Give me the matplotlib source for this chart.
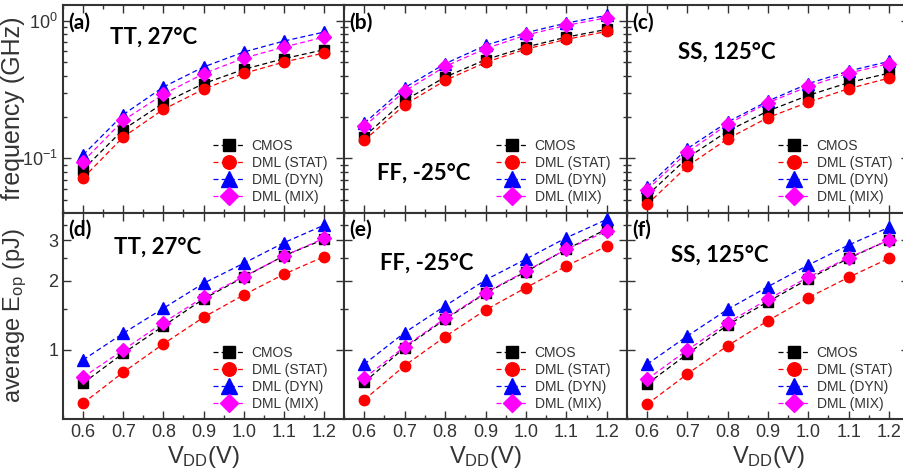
import matplotlib
matplotlib.use('Agg')
import matplotlib.pyplot as plt
from matplotlib.ticker import FixedLocator, NullFormatter, LogLocator, FormatStrFormatter, MultipleLocator

plt.rcParams['font.family'] = ['Liberation Sans', 'DejaVu Sans']
plt.rcParams['mathtext.fontset'] = 'custom'
plt.rcParams['mathtext.rm'] = 'Liberation Sans'
plt.rcParams['mathtext.it'] = 'Liberation Sans'

# tensions d'alimentation
vdd = [0.6, 0.7, 0.8, 0.9, 1.0, 1.1, 1.2]
series_names = ['CMOS', 'DML (STAT)', 'DML (DYN)', 'DML (MIX)']

# fréquence (GHz) - TT 27°C
freq_tt_cmos = [0.083, 0.162, 0.252, 0.349, 0.443, 0.530, 0.615]
freq_tt_stat = [0.072, 0.143, 0.227, 0.318, 0.414, 0.501, 0.582]
freq_tt_dyn = [0.106, 0.208, 0.330, 0.461, 0.592, 0.711, 0.826]
freq_tt_mix = [0.095, 0.189, 0.292, 0.412, 0.535, 0.643, 0.760]
# FF -25°C
freq_ff_cmos = [0.144, 0.264, 0.389, 0.521, 0.643, 0.760, 0.865]
freq_ff_stat = [0.135, 0.245, 0.368, 0.498, 0.622, 0.732, 0.836]
freq_ff_dyn = [0.180, 0.326, 0.487, 0.662, 0.818, 0.961, 1.093]
freq_ff_mix = [0.171, 0.308, 0.465, 0.627, 0.786, 0.924, 1.051]
# SS 125°C
freq_ss_cmos = [0.0538, 0.101, 0.158, 0.221, 0.287, 0.355, 0.416]
freq_ss_stat = [0.0463, 0.088, 0.139, 0.198, 0.256, 0.321, 0.383]
freq_ss_dyn = [0.062, 0.118, 0.184, 0.261, 0.349, 0.431, 0.506]
freq_ss_mix = [0.0593, 0.111, 0.177, 0.254, 0.333, 0.416, 0.487]

# énergie moyenne par opération (pJ)
eop_tt_cmos = [0.717, 0.967, 1.27, 1.664, 2.07, 2.56, 3.02]
eop_tt_stat = [0.587, 0.80, 1.062, 1.386, 1.732, 2.13, 2.54]
eop_tt_dyn = [0.905, 1.181, 1.516, 1.946, 2.377, 2.918, 3.48]
eop_tt_mix = [0.761, 1.0, 1.314, 1.693, 2.08, 2.557, 3.05]
eop_ff_cmos = [0.724, 1.023, 1.359, 1.762, 2.187, 2.733, 3.35]
eop_ff_stat = [0.607, 0.855, 1.142, 1.491, 1.863, 2.313, 2.825]
eop_ff_dyn = [0.867, 1.189, 1.552, 2.012, 2.481, 3.069, 3.687]
eop_ff_mix = [0.754, 1.034, 1.372, 1.773, 2.201, 2.733, 3.28]
eop_ss_cmos = [0.712, 0.961, 1.284, 1.62, 2.032, 2.497, 3.0]
eop_ss_stat = [0.581, 0.787, 1.044, 1.34, 1.686, 2.066, 2.497]
eop_ss_dyn = [0.867, 1.15, 1.501, 1.883, 2.337, 2.853, 3.405]
eop_ss_mix = [0.746, 1.0, 1.314, 1.66, 2.07, 2.514, 3.0]

corners = ['TT, 27°C', 'FF, -25°C', 'SS, 125°C']
panel_labels = [['(a)', '(b)', '(c)'], ['(d)', '(e)', '(f)']]

freq = [[freq_tt_cmos, freq_tt_stat, freq_tt_dyn, freq_tt_mix],
        [freq_ff_cmos, freq_ff_stat, freq_ff_dyn, freq_ff_mix],
        [freq_ss_cmos, freq_ss_stat, freq_ss_dyn, freq_ss_mix]]
eop = [[eop_tt_cmos, eop_tt_stat, eop_tt_dyn, eop_tt_mix],
       [eop_ff_cmos, eop_ff_stat, eop_ff_dyn, eop_ff_mix],
       [eop_ss_cmos, eop_ss_stat, eop_ss_dyn, eop_ss_mix]]

styles = [('k', 's', 6.5), ('#ff0000', 'o', 7.5), ('#0000ff', '^', 8.5), ('#ff00ff', 'D', 7)]

W, H = 904, 472
fig = plt.figure(figsize=(W / 100, H / 100), dpi=100)

col_px = [(63, 281), (344, 283), (627, 282)]
row_px = [(5, 212.5), (212.5, 419.3)]
corner_pos = [[(0.322, 0.846), (0.281, 0.19), (0.353, 0.773)],
              [(0.336, 0.833), (0.292, 0.756), (0.330, 0.795)]]
gray = '#333333'

for r in range(2):
    for c in range(3):
        x0, w = col_px[c]
        ytop, ybot = row_px[r]
        ax = fig.add_axes([x0 / W, 1 - ybot / H, w / W, (ybot - ytop) / H])
        data = freq[c] if r == 0 else eop[c]
        for (col, mk, ms), ys, name in zip(styles, data, series_names):
            ax.plot(vdd, ys, linestyle=(0, (4, 2.5)), color=col, lw=0.9,
                    marker=mk, markersize=ms, markeredgecolor=col, label=name)
        ax.set_yscale('log')
        ax.set_xlim(0.55, 1.25)
        if r == 0:
            ax.set_ylim(0.0405, 1.30)
            ax.yaxis.set_major_locator(LogLocator(base=10, numticks=5))
            ax.yaxis.set_minor_locator(LogLocator(base=10, subs=range(2, 10), numticks=20))
        else:
            ax.set_ylim(0.5, 3.95)
            ax.yaxis.set_major_locator(FixedLocator([1, 2, 3]))
            ax.yaxis.set_minor_locator(FixedLocator([1.5, 2.5, 3.5]))
            ax.yaxis.set_major_formatter(FormatStrFormatter('%d'))
        ax.yaxis.set_minor_formatter(NullFormatter())
        ax.xaxis.set_major_locator(MultipleLocator(0.1))
        ax.xaxis.set_minor_locator(MultipleLocator(0.05))
        ax.xaxis.set_major_formatter(FormatStrFormatter('%.1f'))
        ax.tick_params(which='both', direction='in', top=True, right=True,
                       colors=gray, labelsize=13, width=1)
        ax.tick_params(which='major', length=6)
        ax.tick_params(which='minor', length=3)
        for sp in ax.spines.values():
            sp.set_color(gray)
            sp.set_linewidth(1.5)
        if r == 0:
            ax.tick_params(labelbottom=False)
        else:
            ax.set_xlabel('V$_{\\mathregular{DD}}$(V)', fontsize=17, color=gray, labelpad=2)
        if c > 0:
            ax.tick_params(labelleft=False)
        ax.text(0.02, 0.965, panel_labels[r][c], transform=ax.transAxes,
                fontsize=15, fontweight='bold', va='top', ha='left', family='Lato')
        px, py = corner_pos[r][c]
        ax.text(px, py, corners[c], transform=ax.transAxes, fontsize=16,
                fontweight='bold', ha='center', va='center', family='Lato')
        ax.legend(loc='lower right', bbox_to_anchor=(0.96, 0.0135), frameon=False,
                  fontsize=10, labelspacing=0.22, handlelength=2.3, handletextpad=0.5,
                  markerscale=1.3, borderaxespad=0, labelcolor=gray)
        if c == 0:
            if r == 0:
                ax.set_ylabel('frequency (GHz)', fontsize=18, color=gray)
                ax.yaxis.set_label_coords(-0.135, 0.5)
            else:
                ax.set_ylabel('average E$_{\\mathregular{op}}$ (pJ)', fontsize=17, color=gray)
                ax.yaxis.set_label_coords(-0.12, 0.5)

fig.savefig('out.png', dpi=100)
